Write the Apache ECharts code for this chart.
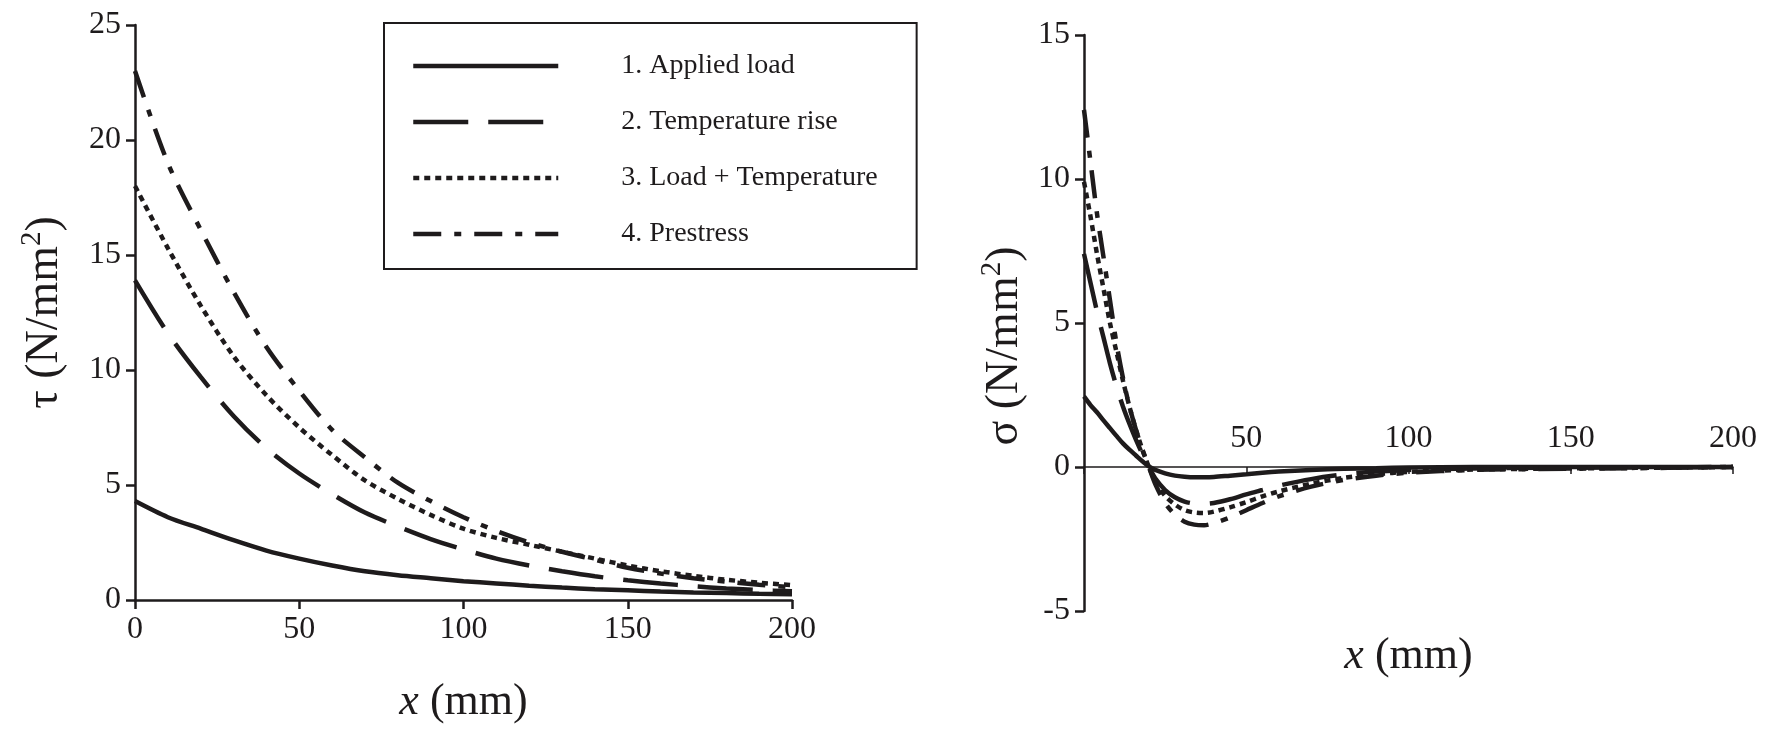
<!DOCTYPE html>
<html>
<head>
<meta charset="utf-8">
<script src="https://cdn.jsdelivr.net/npm/echarts@6/dist/echarts.min.js"></script>
<style>
html,body{margin:0;padding:0;background:#fff;}
#chart{width:1780px;height:731px;}
</style>
</head>
<body>
<div id="chart"></div>
<script>
// ---- data ----
const seriesNames = ['1. Applied load', '2. Temperature rise', '3. Load + Temperature', '4. Prestress'];

// left panel: shear stress tau (N/mm2) vs x (mm)
const tauX = [0,10,20,30,40,50,60,70,80,90,100,110,120,130,140,150,160,170,180,190,200];
const tauApplied = [4.3,3.6,3.1,2.6,2.15,1.8,1.5,1.25,1.08,0.95,0.82,0.72,0.62,0.54,0.47,0.42,0.37,0.33,0.3,0.27,0.25];
const tauTemp    = [13.9,11.6,9.7,8.0,6.6,5.5,4.6,3.8,3.2,2.65,2.2,1.8,1.5,1.25,1.03,0.86,0.72,0.6,0.5,0.43,0.38];
const tauLoadTemp= [18.0,15.3,12.8,10.6,8.9,7.5,6.3,5.2,4.4,3.7,3.1,2.7,2.4,2.1,1.8,1.5,1.25,1.05,0.88,0.75,0.65];
const tauPrestress=[23.0,19.0,16.1,13.4,11.0,9.1,7.4,6.2,5.1,4.3,3.6,3.0,2.5,2.1,1.75,1.4,1.15,0.95,0.8,0.66,0.55];

// right panel: normal stress sigma (N/mm2) vs x (mm)
const sigmaX = [0,2,4,6,8,10,12,14,16,18,20,22,25,28,31,34,37,40,45,50,55,60,70,80,90,100,120,140,160,180,200];
const sigmaApplied = [2.45,2.15,1.9,1.62,1.35,1.08,0.82,0.6,0.4,0.2,0.02,-0.1,-0.22,-0.3,-0.34,-0.36,-0.36,-0.35,-0.3,-0.25,-0.2,-0.16,-0.1,-0.06,-0.04,-0.02,0,0,0,0,0];
const sigmaTemp = [7.4,6.4,5.4,4.5,3.6,2.8,2.1,1.5,0.95,0.45,0.0,-0.4,-0.8,-1.05,-1.2,-1.27,-1.28,-1.25,-1.12,-0.95,-0.8,-0.65,-0.42,-0.26,-0.16,-0.1,-0.05,-0.03,-0.02,-0.01,0];
const sigmaLoadTemp = [9.9,8.7,7.4,6.2,5.0,4.0,3.0,2.1,1.3,0.6,0.0,-0.5,-1.0,-1.3,-1.5,-1.58,-1.6,-1.55,-1.4,-1.22,-1.02,-0.85,-0.58,-0.38,-0.25,-0.17,-0.09,-0.06,-0.04,-0.02,0];
const sigmaPrestress = [12.4,10.6,8.8,7.3,5.8,4.3,3.1,2.1,1.3,0.6,0.0,-0.6,-1.25,-1.65,-1.9,-2.0,-2.02,-1.95,-1.75,-1.5,-1.25,-1.02,-0.68,-0.45,-0.3,-0.2,-0.1,-0.07,-0.05,-0.03,0];

// ---- styling ----
const INK = '#1e1b1c';
const FONT = "'Liberation Serif','DejaVu Serif',serif";
const dashTypes = ['solid', [55, 20], [6, 5], [28, 13, 7, 13]];
const LW = 4.5;

function zip(xs, ys){ return xs.map((x,i)=>[x, ys[i]]); }

const tauSets = [tauApplied, tauTemp, tauLoadTemp, tauPrestress];
const sigmaSets = [sigmaApplied, sigmaTemp, sigmaLoadTemp, sigmaPrestress];

const series = [];
seriesNames.forEach((name, i) => {
  series.push({
    name, type: 'line', xAxisIndex: 0, yAxisIndex: 0,
    data: zip(tauX, tauSets[i]), smooth: 0.3, symbol: 'none', showSymbol: false,
    lineStyle: {color: INK, width: LW, type: dashTypes[i], cap: 'butt'},
    itemStyle: {color: INK}, z: 3
  });
});
seriesNames.forEach((name, i) => {
  series.push({
    name, type: 'line', xAxisIndex: 1, yAxisIndex: 1,
    data: zip(sigmaX, sigmaSets[i]), smooth: 0.3, symbol: 'none', showSymbol: false,
    lineStyle: {color: INK, width: LW, type: dashTypes[i], cap: 'butt'},
    itemStyle: {color: INK}, z: 3
  });
});

const axisLabelStyle = {color: INK, fontFamily: FONT, fontSize: 32};
const xTitleRich = {
  a: {fontFamily: FONT, fontSize: 44, color: INK},
  i: {fontFamily: FONT, fontSize: 44, color: INK, fontStyle: 'italic'}
};
const yTitleRich = {
  a: {fontFamily: FONT, fontSize: 46, color: INK},
  sup: {fontFamily: FONT, fontSize: 29, color: INK, padding: [0, 0, 24, 0]}
};

const option = {
  backgroundColor: '#fff',
  animation: false,
  legend: {
    orient: 'vertical',
    left: 384, top: 23,
    padding: [29, 39, 21, 27],
    borderColor: INK, borderWidth: 2,
    itemWidth: 145, itemHeight: 14, itemGap: 28,
    itemStyle: {opacity: 0, borderWidth: 0},
    lineStyle: {width: LW, type: 'inherit', color: INK, cap: 'butt'},
    textStyle: {fontFamily: FONT, fontSize: 28, color: INK, padding: [0, 0, 0, 58]},
    data: seriesNames
  },
  grid: [
    {left: 135, top: 25, width: 657, height: 575, outerBoundsMode: 'none', containLabel: false},
    {left: 1084, top: 35, width: 649, height: 576, outerBoundsMode: 'none', containLabel: false}
  ],
  xAxis: [
    {
      type: 'value', gridIndex: 0, min: 0, max: 200, interval: 50,
      axisLine: {lineStyle: {color: INK, width: 2.5}},
      axisTick: {show: true, length: 9, lineStyle: {color: INK, width: 2.5}},
      axisLabel: Object.assign({margin: 14}, axisLabelStyle),
      splitLine: {show: false},
      name: '{i|x}{a| (mm)}', nameLocation: 'middle', nameGap: 80,
      nameTextStyle: {rich: xTitleRich}
    },
    {
      type: 'value', gridIndex: 1, min: 0, max: 200, interval: 50,
      axisLine: {onZero: true, lineStyle: {color: INK, width: 1.5}},
      axisTick: {show: true, length: 7, lineStyle: {color: INK, width: 1.5}},
      axisLabel: Object.assign({margin: -188,
        formatter: v => v === 0 ? '' : String(v)}, axisLabelStyle),
      splitLine: {show: false},
      name: '{i|x}{a| (mm)}', nameLocation: 'middle', nameGap: 23,
      nameTextStyle: {rich: xTitleRich}
    }
  ],
  yAxis: [
    {
      type: 'value', gridIndex: 0, min: 0, max: 25, interval: 5,
      axisLine: {show: true, lineStyle: {color: INK, width: 2.5}},
      axisTick: {show: true, length: 9, lineStyle: {color: INK, width: 2.5}},
      axisLabel: Object.assign({margin: 14}, axisLabelStyle),
      splitLine: {show: false},
      name: '{a|τ (N/mm}{sup|2}{a|)}', nameLocation: 'middle', nameGap: 64, nameRotate: 90,
      nameTextStyle: {rich: yTitleRich}
    },
    {
      type: 'value', gridIndex: 1, min: -5, max: 15, interval: 5,
      axisLine: {show: true, onZero: false, lineStyle: {color: INK, width: 2.5}},
      axisTick: {show: true, length: 9, lineStyle: {color: INK, width: 2.5}},
      axisLabel: Object.assign({margin: 14}, axisLabelStyle),
      splitLine: {show: false},
      name: '{a|σ (N/mm}{sup|2}{a|)}', nameLocation: 'middle', nameGap: 53, nameRotate: 90,
      nameTextStyle: {rich: yTitleRich, padding: [0, 46, 0, 0]}
    }
  ],
  series
};

const chart = echarts.init(document.getElementById('chart'), null, {renderer: 'canvas'});
chart.setOption(option);
</script>
</body>
</html>
